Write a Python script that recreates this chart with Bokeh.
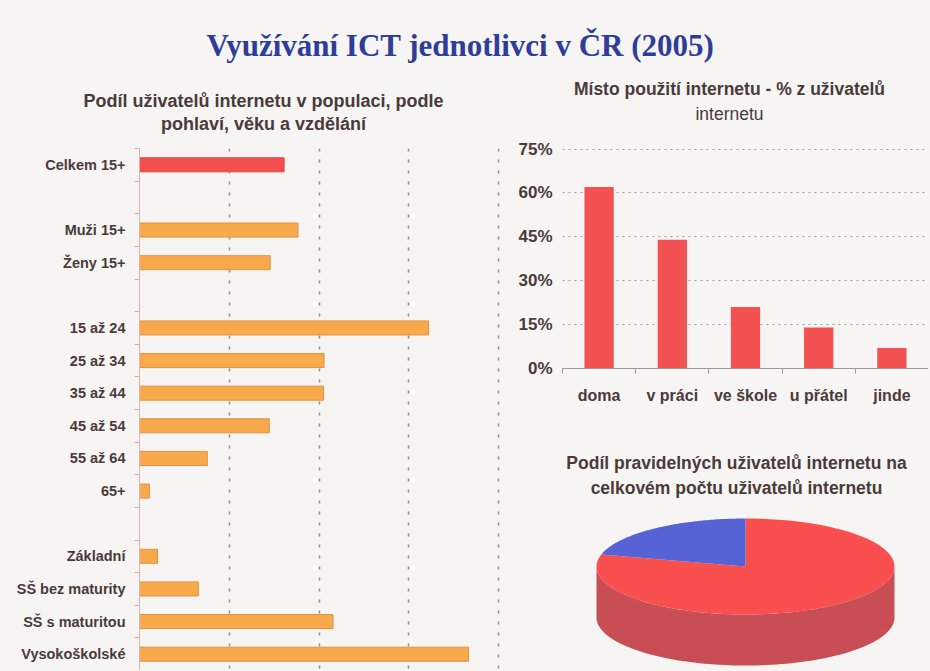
import math
from bokeh.plotting import figure
from bokeh.layouts import column, row
from bokeh.models import Range1d, FixedTicker, Label, NumeralTickFormatter
from bokeh.embed import file_html
from bokeh.resources import INLINE

# ---------------- data ----------------
title_main = "Využívání ICT jednotlivci v ČR (2005)"
left_title = ["Podíl uživatelů internetu v populaci, podle", "pohlaví, věku a vzdělání"]
right_title = ["Místo použití internetu - % z uživatelů", "internetu"]
pie_title = ["Podíl pravidelných uživatelů internetu na", "celkovém počtu uživatelů internetu"]

group_total = ["Celkem 15+"]
group_sex = ["Muži 15+", "Ženy 15+"]
group_age = ["15 až 24", "25 až 34", "35 až 44", "45 až 54", "55 až 64", "65+"]
group_edu = ["Základní", "SŠ bez maturity", "SŠ s maturitou", "Vysokoškolské"]
val_total = [32.2]
val_sex = [35.3, 29.1]
val_age = [64.4, 41.1, 41.0, 28.9, 15.1, 2.2]
val_edu = [4.0, 13.1, 43.1, 73.3]
left_grid_ticks = [20, 40, 60, 80]

places = ["doma", "v práci", "ve škole", "u přátel", "jinde"]
place_share = [0.62, 0.44, 0.21, 0.14, 0.07]
share_ticks = [0, 0.15, 0.30, 0.45, 0.60, 0.75]

pie_labels = ["pravidelní uživatelé", "nepravidelní uživatelé"]
pie_values = [79, 21]

# ---------------- styles ----------------
BG = "#f7f5f3"
TXT = "#4a3a3a"
FONT = "Liberation Sans"
RED = "#f24f4f"
ORANGE = "#f8a94c"

def base_fig(w, h, **kw):
    p = figure(width=w, height=h, output_backend="svg", toolbar_location=None,
               background_fill_color=BG, border_fill_color=BG, **kw)
    p.outline_line_color = None
    return p

# ---------------- header (page pixel coordinates) ----------------
hdr = base_fig(928, 138, x_range=Range1d(0, 928), y_range=Range1d(138, 0),
               x_axis_location=None, y_axis_location=None, min_border=0)
hdr.grid.visible = False
hdr.add_layout(Label(x=460, y=45, text=title_main, text_align="center", text_baseline="middle",
                     text_font="Liberation Serif", text_font_style="bold", text_font_size="31px",
                     text_color="#2f3d9a"))
for i, t in enumerate(left_title):
    hdr.add_layout(Label(x=263, y=100 + 23 * i, text=t, text_align="center", text_baseline="middle",
                         text_font=FONT, text_font_style="bold", text_font_size="18px", text_color=TXT))
for i, t in enumerate(right_title):
    hdr.add_layout(Label(x=729, y=88 + 25 * i, text=t, text_align="center", text_baseline="middle",
                         text_font=FONT, text_font_style="bold" if i == 0 else "normal",
                         text_font_size="17.5px", text_color=TXT))
hdr.scatter([0], [0], size=0, alpha=0)

# ---------------- left horizontal bars ----------------
groups = [(group_total, val_total, RED), (group_sex, val_sex, ORANGE),
          (group_age, val_age, ORANGE), (group_edu, val_edu, ORANGE)]
ypos, labels, vals, colors = [], [], [], []
r = 0
for cats, vs, col in groups:
    for c, v in zip(cats, vs):
        ypos.append(r); labels.append(c); vals.append(v); colors.append(col)
        r += 1
    r += 1
n_rows = r - 1

left = base_fig(502, 532, x_range=Range1d(0, 80.4), y_range=Range1d(n_rows - 0.5, -0.5),
                min_border_left=139, min_border_right=2, min_border_top=10, min_border_bottom=0)
left.hbar(y=ypos, right=vals, left=0, height=0.43, fill_color=colors,
          line_color=["#e04040" if c == RED else "#e39040" for c in colors], line_width=1)
left.xaxis.visible = False
left.xgrid.ticker = FixedTicker(ticks=left_grid_ticks)
left.xgrid.grid_line_color = "#8c8c8c"
left.xgrid.grid_line_dash = "3 8"
left.xgrid.grid_line_width = 1.5
left.ygrid.visible = False
ya = left.yaxis[0]
ya.ticker = FixedTicker(ticks=ypos, minor_ticks=[k - 0.5 for k in range(n_rows + 2)])
ya.major_label_overrides = {y: l for y, l in zip(ypos, labels)}
ya.major_tick_line_color = None
ya.major_tick_out = 0
ya.major_tick_in = 0
ya.minor_tick_in = 0
ya.minor_tick_out = 5
ya.minor_tick_line_color = "#d9a8a8"
ya.axis_line_color = "#e0b2b2"
ya.major_label_text_font = FONT
ya.major_label_text_font_style = "bold"
ya.major_label_text_font_size = "14.5px"
ya.major_label_text_color = TXT
ya.major_label_standoff = 9

# ---------------- right vertical bars ----------------
xs = list(range(len(places)))
rb = base_fig(426, 282, x_range=Range1d(-0.5, len(places) - 0.5), y_range=Range1d(0, 0.752),
              min_border_left=60, min_border_right=0, min_border_top=10, min_border_bottom=52)
rb.vbar(x=xs, top=place_share, width=0.4, fill_color="#f45252", line_color=None)
xa = rb.xaxis[0]
xa.ticker = FixedTicker(ticks=xs, minor_ticks=[i + 0.5 for i in range(-1, len(places))])
xa.major_label_overrides = {x: l for x, l in zip(xs, places)}
xa.major_tick_line_color = None
xa.major_tick_out = 0
xa.major_tick_in = 0
xa.minor_tick_in = 0
xa.minor_tick_out = 5
xa.minor_tick_line_color = "#999999"
xa.axis_line_color = "#9a9a9a"
xa.major_label_text_font = FONT
xa.major_label_text_font_style = "bold"
xa.major_label_text_font_size = "16px"
xa.major_label_text_color = TXT
xa.major_label_standoff = 13
yb = rb.yaxis[0]
yb.ticker = FixedTicker(ticks=share_ticks)
yb.formatter = NumeralTickFormatter(format="0%")
yb.axis_line_color = None
yb.major_tick_line_color = None
yb.major_tick_out = 0
yb.major_tick_in = 0
yb.minor_tick_line_color = None
yb.major_label_text_font = FONT
yb.major_label_text_font_style = "bold"
yb.major_label_text_font_size = "17px"
yb.major_label_text_color = TXT
yb.major_label_standoff = 10
rb.xgrid.visible = False
rb.ygrid.ticker = FixedTicker(ticks=share_ticks[1:])
rb.ygrid.grid_line_color = "#9a9a9a"
rb.ygrid.grid_line_dash = "2 4"

# ---------------- 3D pie (frame aligned with bar chart: page coords) ----------------
pie = base_fig(426, 250, x_range=Range1d(562, 928), y_range=Range1d(670, 420),
               x_axis_location=None, y_axis_location=None,
               min_border_left=60, min_border_right=0, min_border_top=0, min_border_bottom=0)
pie.grid.visible = False
for i, t in enumerate(pie_title):
    pie.add_layout(Label(x=736, y=462 + 25 * i, text=t, text_align="center", text_baseline="middle",
                         text_font=FONT, text_font_style="bold", text_font_size="17.5px", text_color=TXT))

cx, cy, rx, ry, depth = 745, 566, 149, 48, 51
top_cols = ["#f94f4f", "#5763d4"]
side_cols = ["#c84d55", "#3f4aa8"]
total = float(sum(pie_values))

def arc(a0, a1, dy=0, n=90):
    pts = []
    for k in range(n + 1):
        t = math.radians(a0 + (a1 - a0) * k / n)
        pts.append((cx + rx * math.cos(t), cy + dy - ry * math.sin(t)))
    return pts

starts, ends = [], []
a = 90.0
for v in pie_values:
    starts.append(a)
    a -= v / total * 360.0
    ends.append(a)

side_xs, side_ys, side_c = [], [], []
for s, e, c in zip(starts, ends, side_cols):
    for k in range(-3, 3):
        lo, hi = max(e, -180 + 360 * k), min(s, 0 + 360 * k)
        if hi > lo:
            pts = arc(lo, hi) + arc(hi, lo, dy=depth)
            side_xs.append([p[0] for p in pts]); side_ys.append([p[1] for p in pts]); side_c.append(c)
pie.patches(side_xs, side_ys, fill_color=side_c, line_color=None)

top_xs, top_ys = [], []
for s, e in zip(starts, ends):
    pts = [(cx, cy)] + arc(s, e) + [(cx, cy)]
    top_xs.append([p[0] for p in pts]); top_ys.append([p[1] for p in pts])
pie.patches(top_xs, top_ys, fill_color=top_cols, line_color=None)

layout = column(hdr, row(left, column(rb, pie)))
html = file_html(layout, INLINE)
html = html.replace("</head>", "<style>body{background:%s}</style></head>" % BG, 1)
open("out.html", "w").write(html)
